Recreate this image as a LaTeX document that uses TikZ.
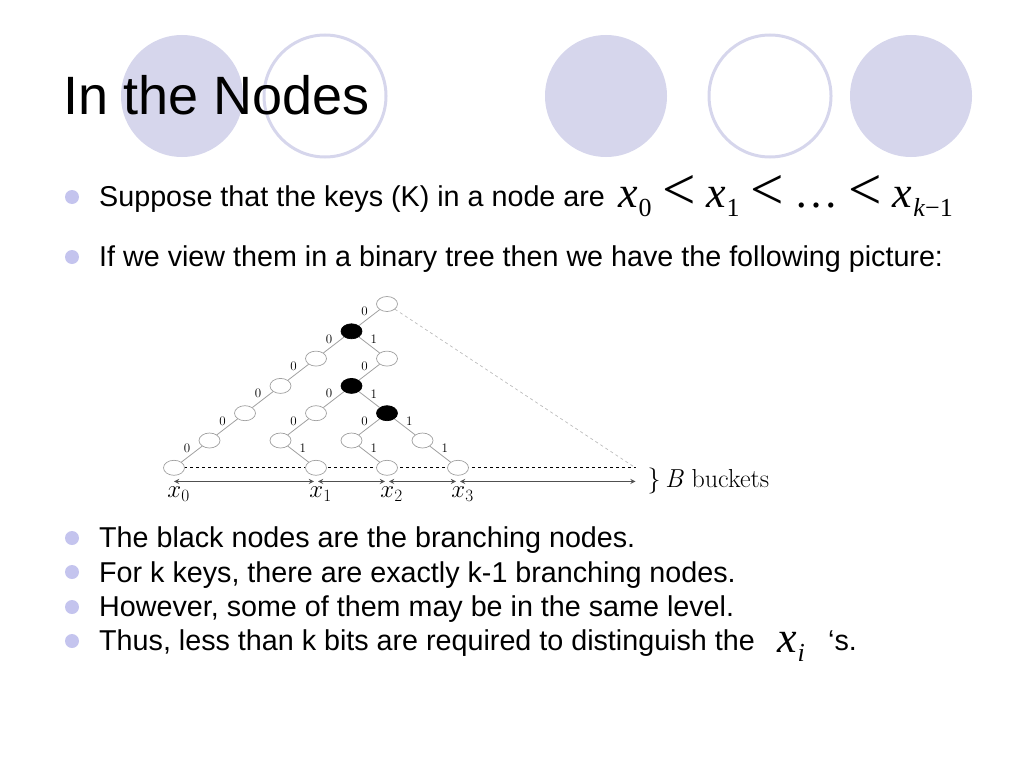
\documentclass[tikz,border=0pt]{standalone}
\usepackage{fontspec}
\newfontfamily\arial{Liberation Sans}
\newfontfamily\timesf{Liberation Serif}
\usetikzlibrary{shapes.geometric}
\definecolor{lav}{RGB}{214,214,236}
\definecolor{bul}{RGB}{196,196,238}
\definecolor{nodegray}{RGB}{160,160,160}
\definecolor{arrgray}{RGB}{80,80,80}
% an x with a lowered index, as the slide sets it
\newcommand{\xsub}[1]{\textit{x}\kern0.02em\raisebox{-0.22em}{\fontsize{26}{26}\selectfont #1}}
\newcommand{\lessop}{\hspace{0.24em}\raisebox{-0.05em}{\scalebox{1.35}{<}}\hspace{0.24em}}
\tikzset{
  title/.style={anchor=base west, inner sep=0pt, font=\arial\fontsize{54}{60}\selectfont},
  txt/.style={anchor=base west, inner sep=0pt, font=\arial\fontsize{28.7}{32}\selectfont},
  bigmath/.style={anchor=base west, inner sep=0pt, font=\timesf\fontsize{44}{44}\selectfont},
  bullet/.style={circle, fill=bul, minimum size=14pt, inner sep=0pt},
  wn/.style={ellipse, draw=nodegray, fill=white, minimum width=21pt, minimum height=15pt, inner sep=0pt, line width=0.7pt},
  bn/.style={wn, draw=black, fill=black},
  tline/.style={draw=nodegray, line width=0.8pt},
  zero/.style={above left, inner sep=1pt, font=\fontsize{13}{13}\selectfont},
  one/.style={above right, inner sep=1pt, font=\fontsize{13}{13}\selectfont},
  xlab/.style={font=\fontsize{24}{26}\selectfont, inner sep=0pt}
}
\begin{document}
\begin{tikzpicture}[x=1pt,y=-1pt]
  \useasboundingbox (0,0) rectangle (1024,768);
  % circles behind the title
  \fill[lav] (182,96) circle (61);
  \draw[lav, line width=3pt] (325,96) circle (61);
  \fill[lav] (606,96) circle (61);
  \draw[lav, line width=3pt] (770,96) circle (61);
  \fill[lav] (911,96) circle (61);
  \node[title] (ttl) at (63,114) {In the Nodes};
  % upper bullets
  \node[bullet] (p1) at (72,197) {};
  \node[txt] (t1) at (99,206) {Suppose that the keys (K) in a node are};
  \node[bigmath] (m1) at (618,207) {\xsub{0}\lessop\xsub{1}\lessop…\lessop\xsub{\textit{k}−1}};
  \node[bullet] (p2) at (72,257) {};
  \node[txt] (t2) at (99,266) {If we view them in a binary tree then we have the following picture:};
  % the tree
  \begin{scope}[shift={(174,304)}, x=35.5pt, y=-27.3pt]
    \coordinate (bstart) at (0,6);
    \coordinate (bend) at (13,6);
    \draw[dashed, line width=0.8pt] ([xshift=10pt]bstart) -- (bend);
    \node[wn] (r) at (6,0) {};
    \node[bn] (b1) at (5,1) {};
    \node[wn] (a2) at (4,2) {};
    \node[wn] (c2) at (6,2) {};
    \node[wn] (a3) at (3,3) {};
    \node[bn] (b2) at (5,3) {};
    \node[wn] (a4) at (2,4) {};
    \node[wn] (d4) at (4,4) {};
    \node[bn] (b3) at (6,4) {};
    \node[wn] (a5) at (1,5) {};
    \node[wn] (d5) at (3,5) {};
    \node[wn] (e5) at (5,5) {};
    \node[wn] (f5) at (7,5) {};
    \node[wn] (l0) at (0,6) {};
    \node[wn] (l1) at (4,6) {};
    \node[wn] (l2) at (6,6) {};
    \node[wn] (l3) at (8,6) {};
    \draw[tline] (r) -- node[zero] {0} (b1);
    \draw[tline] (b1) -- node[zero] {0} (a2);
    \draw[tline] (b1) -- node[one] {1} (c2);
    \draw[tline] (a2) -- node[zero] {0} (a3);
    \draw[tline] (a3) -- node[zero] {0} (a4);
    \draw[tline] (a4) -- node[zero] {0} (a5);
    \draw[tline] (a5) -- node[zero] {0} (l0);
    \draw[tline] (c2) -- node[zero] {0} (b2);
    \draw[tline] (b2) -- node[zero] {0} (d4);
    \draw[tline] (b2) -- node[one] {1} (b3);
    \draw[tline] (d4) -- node[zero] {0} (d5);
    \draw[tline] (d5) -- node[one] {1} (l1);
    \draw[tline] (b3) -- node[zero] {0} (e5);
    \draw[tline] (b3) -- node[one] {1} (f5);
    \draw[tline] (e5) -- node[one] {1} (l2);
    \draw[tline] (f5) -- node[one] {1} (l3);
    \draw[nodegray!70, dashed, line width=0.7pt] (r) -- (bend);
    % key positions
    \coordinate (k0) at (0,6.5);
    \coordinate (k1) at (4,6.5);
    \coordinate (k2) at (6,6.5);
    \coordinate (k3) at (8,6.5);
    \coordinate (kend) at (13,6.5);
    \draw[<->, >=stealth, arrgray, line width=1.3pt] (k0) -- ([xshift=-2pt]k1);
    \draw[<->, >=stealth, arrgray, line width=1.3pt] ([xshift=2pt]k1) -- ([xshift=-2pt]k2);
    \draw[<->, >=stealth, arrgray, line width=1.3pt] ([xshift=2pt]k2) -- ([xshift=-2pt]k3);
    \draw[<->, >=stealth, arrgray, line width=1.3pt] ([xshift=2pt]k3) -- (kend);
    \node[xlab] (x0) at (0.13,6.96) {$x_0$};
    \node[xlab] (x1) at (4.13,6.96) {$x_1$};
    \node[xlab] (x2) at (6.13,6.96) {$x_2$};
    \node[xlab] (x3) at (8.13,6.96) {$x_3$};
    \node[anchor=west, inner sep=0pt, font=\fontsize{26}{28}\selectfont] (bk) at ([xshift=12pt]kend) {\}\,\textit{B} buckets};
  \end{scope}
  % lower bullets
  \node[bullet] (p3) at (72,538) {};
  \node[txt] (t3) at (99,547) {The black nodes are the branching nodes.};
  \node[bullet] (p4) at (72,572) {};
  \node[txt] (t4) at (99,582) {For k keys, there are exactly k-1 branching nodes.};
  \node[bullet] (p5) at (72,607) {};
  \node[txt] (t5) at (99,616) {However, some of them may be in the same level.};
  \node[bullet] (p6) at (72,641) {};
  \node[txt] (t6) at (99,650) {Thus, less than k bits are required to distinguish the};
  \node[bigmath] (m2) at (777,652) {\xsub{\textit{i}}};
  \node[txt] (t7) at (828,650) {‘s.};
\end{tikzpicture}
\end{document}
